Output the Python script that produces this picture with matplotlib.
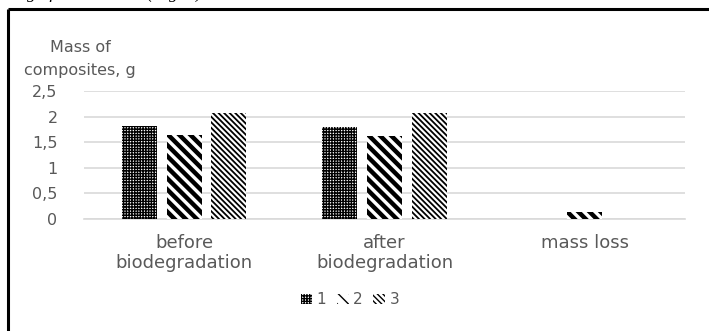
"""Mass of composites before/after biodegradation, hatched bar chart."""
import matplotlib
matplotlib.use("Agg")
from matplotlib import pyplot as plt   # noqa: E402
from matplotlib.lines import Line2D     # noqa: E402
import numpy as np                      # noqa: E402

categories = ["before\nbiodegradation", "after\nbiodegradation", "mass loss"]
series_names = ["1", "2", "3"]
mass_1 = [1.81, 1.80, 0.0]
mass_2 = [1.65, 1.62, 0.13]
mass_3 = [2.07, 2.07, 0.0]
yticks = [0, 0.5, 1, 1.5, 2, 2.5]
ytick_labels = ["0", "0,5", "1", "1,5", "2", "2,5"]

GREY_TXT = "#595959"
GRID_C = "#d9d9d9"
HATCHES = ["++++++", "\\\\\\", "\\\\\\\\\\\\"]
HATCH_LW = [1.0, 3.2, 1.3]

plt.rcParams["font.family"] = ["DejaVu Sans"]

fig = plt.figure(figsize=(7.09, 3.31), dpi=100)
ax = fig.add_axes([84 / 709, 1 - 219 / 331, 601 / 709, 128 / 331])

x = np.arange(len(categories))
w, step = 0.175, 0.2225
for i, vals in enumerate([mass_1, mass_2, mass_3]):
    bars = ax.bar(x + (i - 1) * step, vals, w, color="white", edgecolor="black",
                  linewidth=0, hatch=HATCHES[i], label=series_names[i], zorder=3)
    for b in bars:
        if hasattr(b, "set_hatch_linewidth"):
            b.set_hatch_linewidth(HATCH_LW[i])

ax.set_xlim(-0.5, 2.5)
ax.set_ylim(0, 2.5)
ax.set_yticks(yticks, ytick_labels)
ax.set_xticks(x, categories)
ax.yaxis.grid(True, color=GRID_C, linewidth=1.2, zorder=0)
ax.set_axisbelow(True)
for s in ["top", "right", "left"]:
    ax.spines[s].set_visible(False)
ax.spines["bottom"].set_color(GRID_C)
ax.spines["bottom"].set_linewidth(1.2)
ax.tick_params(axis="y", length=0, pad=19, labelsize=11.5, labelcolor=GREY_TXT)
ax.tick_params(axis="x", length=0, pad=11, labelsize=13, labelcolor=GREY_TXT)
for t in ax.get_xticklabels():
    t.set_linespacing(1.15)

fig.text(80 / 709, 1 - 59 / 331, "Mass of\ncomposites, g", ha="center", va="center",
         fontsize=11.5, color=GREY_TXT, linespacing=1.65)

fig.legend(loc="center", bbox_to_anchor=(350 / 709, 1 - 300 / 331), ncol=3,
           frameon=False, fontsize=11, handlelength=0.75, handleheight=0.6,
           handletextpad=0.3, columnspacing=0.7, labelcolor=GREY_TXT)

# page frame and clipped caption line above it
fig.add_artist(Line2D([8 / 709, 1.0], [1 - 8.5 / 331] * 2, color="black", lw=2.2,
                      transform=fig.transFigure, solid_capstyle="butt"))
fig.add_artist(Line2D([8 / 709] * 2, [0.0, 1 - 8.5 / 331], color="black", lw=2.2,
                      transform=fig.transFigure, solid_capstyle="butt"))
fig.text(27 / 709, 1 + 2 / 331, "g of mass losses (Fig. 5).", ha="left",
         va="baseline", fontsize=13, style="italic", family="Liberation Serif")

fig.savefig("out.png", dpi=100)
